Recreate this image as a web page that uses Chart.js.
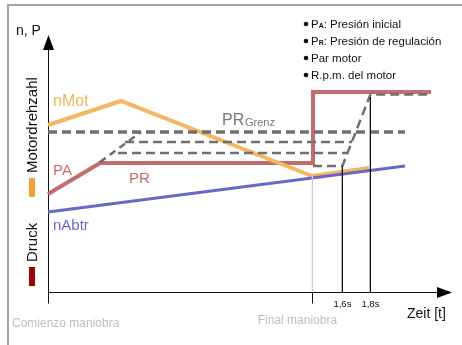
<!DOCTYPE html>
<html>
<head>
<meta charset="utf-8">
<script src="https://cdn.jsdelivr.net/npm/chart.js@4.4.1/dist/chart.umd.min.js"></script>
<style>
  html, body { margin: 0; padding: 0; background: #fff; }
  canvas { display: block; }
</style>
</head>
<body>
<canvas id="chart" width="462" height="345"></canvas>
<script>
// Esquema: x = tiempo (0..100), y = n, P (0..100), unidades arbitrarias
const nMot = [[0, 66.8], [18.25, 76.4], [66, 46.4], [80.25, 49.6]];
const presion = [[0, 39.2], [13, 51.6], [66.25, 51.6], [66.25, 80], [95.75, 80]];
const nAbtr = [[0, 32], [89.25, 50.4]];
const prGrenz = [[0, 64], [89.25, 64]];
const prRampe = [[13, 52], [23.25, 64]];
const prStufe1 = [[19.25, 60], [76, 60]];
const prStufe2 = [[17.5, 55.6], [74.75, 55.6]];
const prRegel = [[66.25, 50.4], [73.6, 50.4], [80.6, 79], [95.75, 79]];

// marcas del eje de tiempo
const tickPos = [66.1, 73.6, 80.6];
const tickTop = [46.4, 50.4, 78];
const tickLabels = ['', '1,6s', '1,8s'];

const FONT = "'Liberation Sans', Arial, Helvetica, sans-serif";

const toXY = pts => pts.map(p => ({ x: p[0], y: p[1] }));

function serie(data, color, width, order, dash) {
  return {
    data: toXY(data),
    borderColor: color,
    borderWidth: width,
    borderDash: dash || [],
    borderCapStyle: 'butt',
    borderJoinStyle: 'miter',
    pointRadius: 0,
    tension: 0,
    fill: false,
    clip: false,
    order: order
  };
}

/**
 * Dibuja marco, ejes con flechas y los textos del esquema
 */
const decorPlugin = {
  id: 'decor',
  beforeDatasetsDraw(chart) {
    const { ctx, scales: { x, y } } = chart;
    const x0 = Math.round(x.getPixelForValue(0)) + 0.5;
    const y0 = Math.round(y.getPixelForValue(0)) + 0.5;
    ctx.save();

    // marco gris
    ctx.strokeStyle = '#a3a3a3';
    ctx.lineWidth = 2;
    ctx.beginPath();
    ctx.moveTo(8, 345);
    ctx.lineTo(8, 5);
    ctx.lineTo(462, 5);
    ctx.stroke();

    // ejes
    ctx.strokeStyle = '#111';
    ctx.lineWidth = 1;
    ctx.beginPath();
    ctx.moveTo(x0, y0 + 11);
    ctx.lineTo(x0, 48);
    ctx.moveTo(x0, y0);
    ctx.lineTo(440, y0);
    const xf = Math.round(x.getPixelForValue(tickPos[0])) + 0.5;
    ctx.moveTo(xf, y0);
    ctx.lineTo(xf, y0 + 11);
    ctx.stroke();

    // flechas
    ctx.fillStyle = '#000';
    ctx.beginPath();
    ctx.moveTo(x0, 35);
    ctx.lineTo(x0 - 5.5, 50);
    ctx.lineTo(x0 + 5.5, 50);
    ctx.closePath();
    ctx.fill();
    ctx.beginPath();
    ctx.moveTo(452, y0);
    ctx.lineTo(437, y0 - 5.5);
    ctx.lineTo(437, y0 + 5.5);
    ctx.closePath();
    ctx.fill();
    ctx.restore();
  },
  afterDraw(chart) {
    const { ctx, scales: { x, y } } = chart;
    ctx.save();
    ctx.textBaseline = 'alphabetic';
    ctx.textAlign = 'left';

    // etiquetas de curvas
    ctx.font = '16px ' + FONT;
    ctx.fillStyle = '#f1b35d';
    ctx.fillText('nMot', 53, 106);
    ctx.font = '15px ' + FONT;
    ctx.fillStyle = '#c86a6c';
    ctx.fillText('PA', 53, 175);
    ctx.fillText('PR', 129, 183);
    ctx.fillStyle = '#6767cc';
    ctx.fillText('nAbtr', 53, 230);

    ctx.fillStyle = '#777';
    ctx.font = '16px ' + FONT;
    ctx.fillText('PR', 222, 125);
    ctx.font = '11px ' + FONT;
    ctx.fillText('Grenz', 245, 126);

    // ejes: textos
    ctx.fillStyle = '#111';
    ctx.font = '14px ' + FONT;
    ctx.fillText('n, P', 16, 35);
    ctx.fillText('Zeit [t]', 407, 318);

    ctx.font = '9.5px ' + FONT;
    ctx.textAlign = 'center';
    tickLabels.forEach((lab, i) => {
      if (lab) ctx.fillText(lab, x.getPixelForValue(tickPos[i]), 307);
    });

    ctx.fillStyle = '#bdbdbd';
    ctx.font = '12px ' + FONT;
    ctx.fillText('Final maniobra', x.getPixelForValue(tickPos[0]) - 15, 324);
    ctx.textAlign = 'left';
    ctx.fillText('Comienzo maniobra', 12, 327);

    // textos verticales
    ctx.fillStyle = '#111';
    ctx.font = '15px ' + FONT;
    [['Motordrehzahl', 173], ['Druck', 262]].forEach(([t, yy]) => {
      ctx.save();
      ctx.translate(37, yy);
      ctx.rotate(-Math.PI / 2);
      ctx.fillText(t, 0, 0);
      ctx.restore();
    });
    ctx.fillStyle = '#f5a032';
    ctx.fillRect(29, 178, 6, 19);
    ctx.fillStyle = '#a30000';
    ctx.fillRect(29, 267, 6, 19);

    // leyenda
    const items = [
      ['P', 'A', ': Presión inicial'],
      ['P', 'R', ': Presión de regulación'],
      ['Par motor', '', ''],
      ['R.p.m. del motor', '', '']
    ];
    ctx.fillStyle = '#111';
    items.forEach((it, i) => {
      const yy = 28 + i * 17;
      ctx.beginPath();
      ctx.arc(306, yy - 4, 2.3, 0, Math.PI * 2);
      ctx.fill();
      let xx = 311;
      ctx.font = '11.5px ' + FONT;
      ctx.fillText(it[0], xx, yy);
      xx += ctx.measureText(it[0]).width;
      if (it[1]) {
        ctx.font = 'bold 7px ' + FONT;
        ctx.fillText(it[1], xx, yy);
        xx += ctx.measureText(it[1]).width;
        ctx.font = '11.5px ' + FONT;
        ctx.fillText(it[2], xx, yy);
      }
    });
    ctx.restore();
  }
};

function initChart() {
  const ctx = document.getElementById('chart');
  if (typeof Chart === 'undefined') {
    console.error('Chart.js no está cargado');
    return;
  }

  const gris = '#6f6f6f';
  const datasets = [
    serie(presion, '#c46b6c', 4, 9),
    serie(nMot, '#f3b663', 4, 8),
    serie(nAbtr, '#6868c8', 3, 7),
    serie(prGrenz, gris, 3.5, 5, [9, 5]),
    serie(prRampe, gris, 2.5, 5, [7, 5]),
    serie(prStufe1, gris, 2.5, 5, [9, 5]),
    serie(prStufe2, gris, 2.5, 5, [9, 5]),
    serie(prRegel, gris, 2.5, 4, [9, 5])
  ];
  tickPos.forEach((t, i) => {
    datasets.push(serie([[t, tickTop[i]], [t, 0]], i === 0 ? '#cfcfcf' : '#111', 1, 1));
  });

  new Chart(ctx, {
    type: 'line',
    data: { datasets },
    options: {
      responsive: false,
      animation: false,
      devicePixelRatio: 1,
      layout: { padding: { left: 48, right: 14, top: 42, bottom: 53 } },
      plugins: { legend: { display: false }, tooltip: { enabled: false } },
      scales: {
        x: { type: 'linear', min: 0, max: 100, display: false },
        y: { type: 'linear', min: 0, max: 100, display: false }
      }
    },
    plugins: [decorPlugin]
  });
}

initChart();
</script>
</body>
</html>
